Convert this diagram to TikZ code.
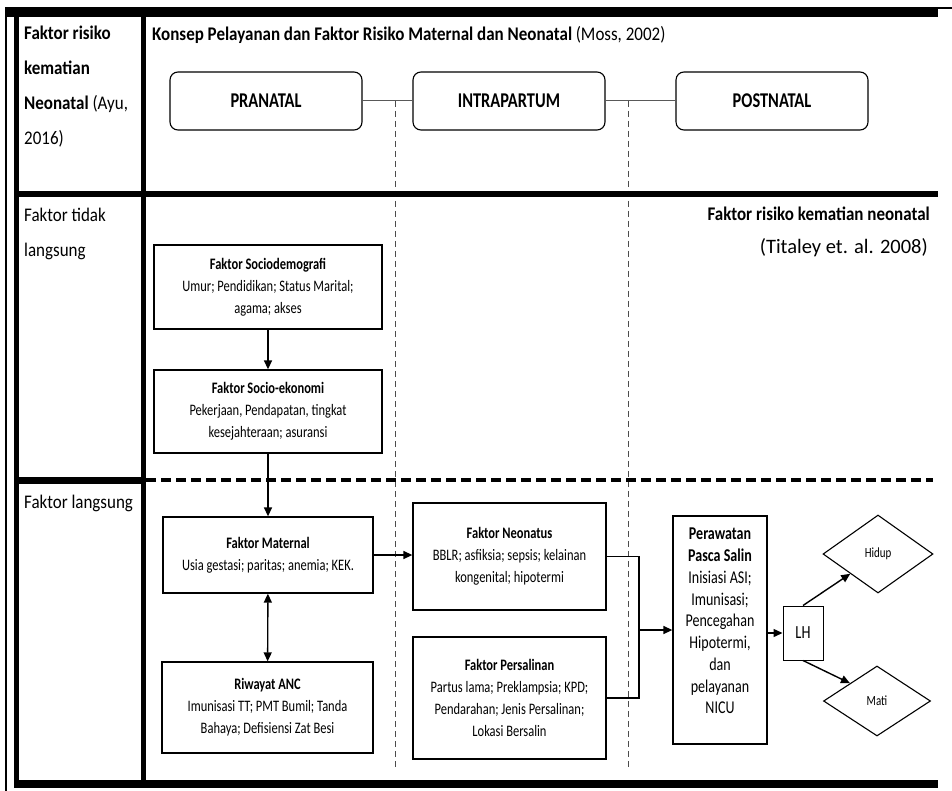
\documentclass[tikz,border=0pt]{standalone}
\usepackage{fontspec}
\setmainfont{Carlito}[FakeStretch=0.88]
\newfontfamily\flowfont{Carlito}[FakeStretch=0.78]
\newfontfamily\widefont{Carlito}
\usetikzlibrary{shapes.geometric,arrows.meta,calc}
\tikzset{
  box/.style={draw, line width=1.3pt, align=center, inner sep=2pt, font=\flowfont\fontsize{16}{22}\selectfont},
  hdr/.style={draw, rounded corners=8pt, line width=1.1pt, minimum width=192pt, minimum height=58pt, font=\flowfont\fontsize{21}{24}\selectfont\bfseries},
  arr/.style={line width=1.4pt, -{Triangle[length=9pt,width=8pt]}},
  darr/.style={line width=1.4pt, {Triangle[length=9pt,width=8pt]}-{Triangle[length=9pt,width=8pt]}},
  plain/.style={line width=1.6pt},
  hdrlink/.style={line width=1pt, draw=black!65},
  phase/.style={line width=0.9pt, draw=black!70, dash pattern=on 6pt off 4pt},
  bigdash/.style={line width=4pt, dash pattern=on 10pt off 5pt},
  coltext/.style={anchor=base west, inner sep=0pt, font=\fontsize{19.3}{22}\selectfont},
  dec/.style={diamond, draw, line width=1.1pt, inner sep=0pt, font=\flowfont\fontsize{14}{16}\selectfont}
}
\begin{document}
\begin{tikzpicture}[x=1pt,y=-1pt]
\useasboundingbox (0,0) rectangle (952,791);
% phase dividers (dashed, beneath everything)
\coordinate (v1a) at (395,101);
\coordinate (v1b) at (395,770);
\coordinate (v2a) at (628,101);
\coordinate (v2b) at (628,770);
\draw[phase] (v1a) -- (v1b);
\draw[phase] (v2a) -- (v2b);
% table frame
\draw[line width=1.6pt] (6,791) -- (6,8) -- (952,8);
\fill (6,9) rectangle (938,17);
\fill (14,9) rectangle (19,788);
\fill (14,780) rectangle (938,788);
\fill (141,17) rectangle (146,780);
\fill (19,191) rectangle (938,197);
\fill (19,477) rectangle (146,484);
\draw[bigdash] (146,480) -- (933,480);
% column / row texts
\node[coltext] (colhead1) at (24,40) {\textbf{Faktor risiko}};
\node[coltext] (colhead2) at (24,75) {\textbf{kematian}};
\node[coltext] (colhead3) at (24,110) {\textbf{Neonatal} (Ayu,};
\node[coltext] (colhead4) at (24,145) {2016)};
\node[coltext] (rowtl1) at (24,221.5) {Faktor tidak};
\node[coltext] (rowtl2) at (24,256.5) {langsung};
\node[coltext] (rowl) at (24,508) {Faktor langsung};
\node[anchor=base west, inner sep=0pt, font=\fontsize{19.3}{22}\selectfont] (title) at (152,40.5) {\textbf{Konsep Pelayanan dan Faktor Risiko Maternal dan Neonatal} (Moss, 2002)};
\node[anchor=base east, inner sep=0pt, font=\fontsize{19.3}{22}\selectfont\bfseries] (frk) at (930,220.5) {Faktor risiko kematian neonatal};
\node[anchor=base east, inner sep=0pt, font=\widefont\fontsize{20.5}{22}\selectfont] (tit) at (928,254) {(Titaley et. al. 2008)};
% header phases
\node[hdr] (pra) at (266,101) {PRANATAL};
\node[hdr] (intra) at (509,101) {INTRAPARTUM};
\node[hdr] (post) at (772,101) {POSTNATAL};
\draw[hdrlink] (pra) -- (intra);
\draw[hdrlink] (intra) -- (post);
% boxes
\node[box, minimum width=228pt, minimum height=84pt] (socio) at (268,287) {\textbf{Faktor Sociodemografi}\\Umur; Pendidikan; Status Marital;\\agama; akses};
\node[box, minimum width=228pt, minimum height=83pt] (ekon) at (268,411.5) {\textbf{Faktor Socio-ekonomi}\\Pekerjaan, Pendapatan, tingkat\\kesejahteraan; asuransi};
\node[box, minimum width=210pt, minimum height=76pt] (maternal) at (268,555) {\textbf{Faktor Maternal}\\Usia gestasi; paritas; anemia; KEK.};
\node[box, minimum width=211pt, minimum height=91pt] (anc) at (267.5,707.5) {\textbf{Riwayat ANC}\\Imunisasi TT; PMT Bumil; Tanda\\Bahaya; Defisiensi Zat Besi};
\node[box, minimum width=193pt, minimum height=107pt] (neonatus) at (509.5,556.5) {\textbf{Faktor Neonatus}\\BBLR; asfiksia; sepsis; kelainan\\kongenital; hipotermi};
\node[box, minimum width=193pt, minimum height=122pt] (persalinan) at (509.5,698) {\textbf{Faktor Persalinan}\\Partus lama; Preklampsia; KPD;\\Pendarahan; Jenis Persalinan;\\Lokasi Bersalin};
\node[box, minimum width=94pt, minimum height=228pt] (perawatan) at (720,630) {};
\node[align=center, inner sep=0pt, font=\flowfont\fontsize{18}{21.75}\selectfont] (perawatantext) at (720,621) {\textbf{Perawatan}\\\textbf{Pasca Salin}\\Inisiasi ASI;\\Imunisasi;\\Pencegahan\\Hipotermi,\\dan\\pelayanan\\NICU};
\node[box, line width=1pt, minimum width=40pt, minimum height=54pt, font=\flowfont\fontsize{18.5}{20}\selectfont] (lh) at (803,633) {LH};
\node[dec, minimum width=110pt, minimum height=78pt] (hidup) at (878,554) {Hidup};
\node[dec, minimum width=107pt, minimum height=70pt] (mati) at (877,701) {Mati};
% connectors
\draw[arr] (socio) -- (ekon);
\draw[arr] (ekon) -- (maternal);
\draw[darr] (maternal) -- (anc);
\draw[arr] (maternal.east) -- (maternal.east -| neonatus.west);
\coordinate (join) at (639,630);
\draw[plain] (neonatus.east) -| (join);
\draw[plain] (persalinan.east) -| (join);
\draw[arr] (join) -- (join -| perawatan.west);
\draw[arr] (lh.west -| perawatan.east) -- (lh.west);
\draw[arr] (lh.north) -- (hidup.south west);
\draw[arr] (lh.south) -- (mati.north west);
\end{tikzpicture}
\end{document}
